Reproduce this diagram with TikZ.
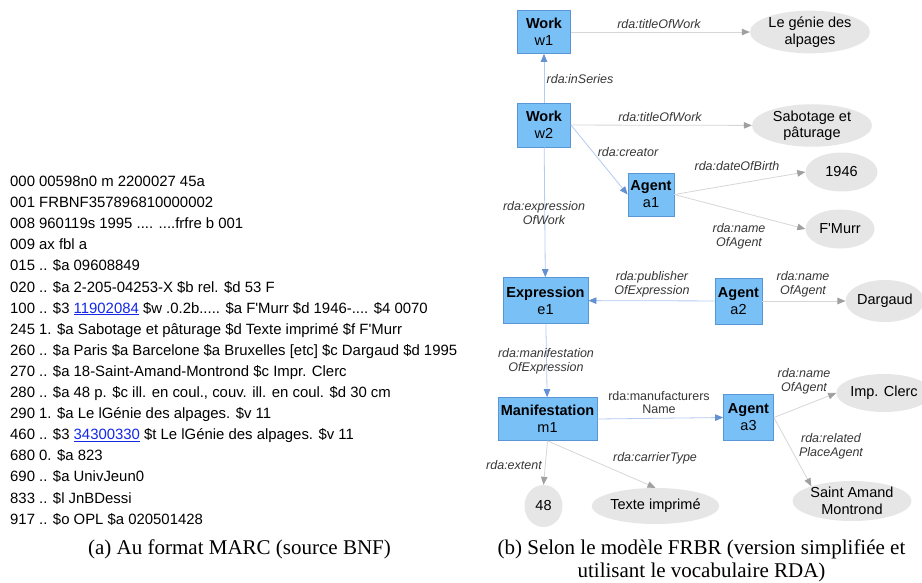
\documentclass[tikz,border=0pt]{standalone}
\usepackage{fontspec}
\setmainfont{Liberation Sans}
\newfontfamily\capfont{Liberation Serif}
\usetikzlibrary{arrows.meta,shapes.geometric}
\definecolor{boxfill}{RGB}{121,192,247}
\definecolor{boxdraw}{RGB}{88,150,214}
\definecolor{ellfill}{RGB}{230,230,230}
\definecolor{blueline}{RGB}{180,204,240}
\definecolor{bluetip}{RGB}{100,145,210}
\definecolor{grayline}{RGB}{215,215,215}
\definecolor{graytip}{RGB}{160,160,160}
\definecolor{lbl}{RGB}{55,55,55}
\definecolor{linkc}{RGB}{20,40,230}
\newcommand{\sq}{\textquotesingle}
\begin{document}
\begin{tikzpicture}[x=1pt,y=-1pt,
 entity/.style={draw=boxdraw,fill=boxfill,line width=0.8pt,align=center,inner sep=0pt,font=\fontsize{14.5}{17}\selectfont},
 lit/.style={ellipse,fill=ellfill,inner sep=0pt,align=center,font=\fontsize{14.5}{16.5}\selectfont},
 rel/.style={font=\fontsize{12.5}{13.8}\selectfont\itshape,text=lbl,align=center,inner sep=0pt},
 relup/.style={font=\fontsize{12.5}{13.8}\selectfont,text=lbl,align=center,inner sep=0pt},
 bedge/.style={draw=blueline,line width=0.8pt,-{Triangle[length=8pt,width=6.5pt,color=bluetip]}},
 gedge/.style={draw=grayline,line width=0.8pt,-{Triangle[length=8pt,width=6.5pt,color=graytip]}},
 marcline/.style={anchor=base west,inner sep=0pt,font=\fontsize{14.9}{17}\selectfont},
 captxt/.style={font=\capfont\fontsize{21}{23}\selectfont,align=center,inner sep=0pt}]
\useasboundingbox[fill=white] (0,0) rectangle (922,582);

% MARC record
\node[marcline] (l000) at (10,186.5) {000 00598n0 m 2200027 45a};
\node[marcline] (l001) at (10,207.6) {001 FRBNF357896810000002};
\node[marcline] (l008) at (10,228.7) {008 960119s 1995 .... ....frfre b 001};
\node[marcline] (l009) at (10,249.8) {009 ax fbl a};
\node[marcline] (l015) at (10,270.9) {015 .. \$a 09608849};
\node[marcline] (l020) at (10,292.0) {020 .. \$a 2-205-04253-X \$b rel. \$d 53 F};
\node[marcline] (l100) at (10,313.1) {100 .. \$3 {\color{linkc}\underline{11902084}} \$w .0.2b..... \$a F\sq Murr \$d 1946-.... \$4 0070};
\node[marcline] (l245) at (10,334.2) {245 1. \$a Sabotage et pâturage \$d Texte imprimé \$f F\sq Murr};
\node[marcline] (l260) at (10,355.3) {260 .. \$a Paris \$a Barcelone \$a Bruxelles [etc] \$c Dargaud \$d 1995};
\node[marcline] (l270) at (10,376.4) {270 .. \$a 18-Saint-Amand-Montrond \$c Impr. Clerc};
\node[marcline] (l280) at (10,397.5) {280 .. \$a 48 p. \$c ill. en coul., couv. ill. en coul. \$d 30 cm};
\node[marcline] (l290) at (10,418.6) {290 1. \$a Le lGénie des alpages. \$v 11};
\node[marcline] (l460) at (10,439.7) {460 .. \$3 {\color{linkc}\underline{34300330}} \$t Le lGénie des alpages. \$v 11};
\node[marcline] (l680) at (10,460.8) {680 0. \$a 823};
\node[marcline] (l690) at (10,481.9) {690 .. \$a UnivJeun0};
\node[marcline] (l833) at (10,503.0) {833 .. \$l JnBDessi};
\node[marcline] (l917) at (10,524.1) {917 .. \$o OPL \$a 020501428};

% FRBR entities
\node[entity,minimum width=53,minimum height=43] (w1) at (544,32) {\textbf{Work}\\w1};
\node[entity,minimum width=53,minimum height=44] (w2) at (544,125) {\textbf{Work}\\w2};
\node[entity,minimum width=46,minimum height=43] (a1) at (651,194.5) {\textbf{Agent}\\a1};
\node[entity,minimum width=85,minimum height=46] (e1) at (545.5,300.5) {\textbf{Expression}\\e1};
\node[entity,minimum width=47,minimum height=46] (a2) at (738.5,301) {\textbf{Agent}\\a2};
\node[entity,minimum width=99,minimum height=43] (m1) at (547.5,419) {\textbf{Manifestation}\\m1};
\node[entity,minimum width=50,minimum height=46] (a3) at (748.5,417.5) {\textbf{Agent}\\a3};

% literals
\node[lit,minimum width=120,minimum height=42] (genie) at (810,32) {Le génie des\\alpages};
\node[lit,minimum width=120,minimum height=40] (sabo) at (812,125.5) {Sabotage et\\pâturage};
\node[lit,minimum width=72,minimum height=39] (y1946) at (841.5,172) {1946};
\node[lit,minimum width=69,minimum height=39] (fmurr) at (840,229) {F\sq Murr};
\node[lit,minimum width=78,minimum height=42] (dargaud) at (885,301) {Dargaud};
\node[lit,minimum width=82,minimum height=38] (clerc) at (884,393) {Imp. Clerc};
\node[lit,minimum width=119,minimum height=40] (saint) at (852,501) {Saint Amand\\Montrond};
\node[lit,minimum width=38,minimum height=42] (n48) at (543.5,506) {48};
\node[lit,minimum width=124,minimum height=36] (texte) at (655.5,506) {Texte imprimé};

% connectors
\draw[bedge] (w2) -- (w1);
\draw[gedge] (w1) -- (genie);
\draw[gedge] (w2) -- (sabo);
\draw[bedge] (w2.east) -- (a1.west);
\draw[gedge] (a1.east) -- (y1946.west);
\draw[gedge] (a1.east) -- (fmurr.west);
\draw[bedge] (w2) -- (e1);
\draw[bedge] (a2) -- (e1);
\draw[gedge] (a2) -- (dargaud);
\draw[bedge] (e1) -- (m1);
\draw[bedge] (m1.east) -- (a3.west);
\draw[gedge] (a3.east) -- (clerc.west);
\draw[gedge] (a3.east) -- (saint.160);
\draw[gedge] (m1.south) -- (n48.north);
\draw[gedge] (m1.south) -- (texte.north);

% connector labels
\node[rel] (lt1) at (659,24) {rda:titleOfWork};
\node[rel] (lis) at (580,79) {rda:inSeries};
\node[rel] (lt2) at (660,117) {rda:titleOfWork};
\node[rel] (lcr) at (628,152) {rda:creator};
\node[rel] (ldb) at (737,166) {rda:dateOfBirth};
\node[rel] (lew) at (544,213) {rda:expression\\OfWork};
\node[rel] (ln1) at (739,236) {rda:name\\OfAgent};
\node[rel] (lpe) at (652,284.5) {rda:publisher\\OfExpression};
\node[rel] (ln2) at (803,284.5) {rda:name\\OfAgent};
\node[rel] (lme) at (546,361) {rda:manifestation\\OfExpression};
\node[relup] (lmn) at (659,402.5) {rda:manufacturers\\Name};
\node[rel] (ln3) at (804,381) {rda:name\\OfAgent};
\node[rel] (lrp) at (831,446) {rda:related\\PlaceAgent};
\node[rel] (lex) at (514,465) {rda:extent};
\node[rel] (lct) at (655,458) {rda:carrierType};

% captions
\node[captxt] (capa) at (239.5,549) {(a) Au format MARC (source BNF)};
\node[captxt] (capb) at (701.5,560.5) {(b) Selon le modèle FRBR (version simplifiée et\\utilisant le vocabulaire RDA)};
\end{tikzpicture}
\end{document}
